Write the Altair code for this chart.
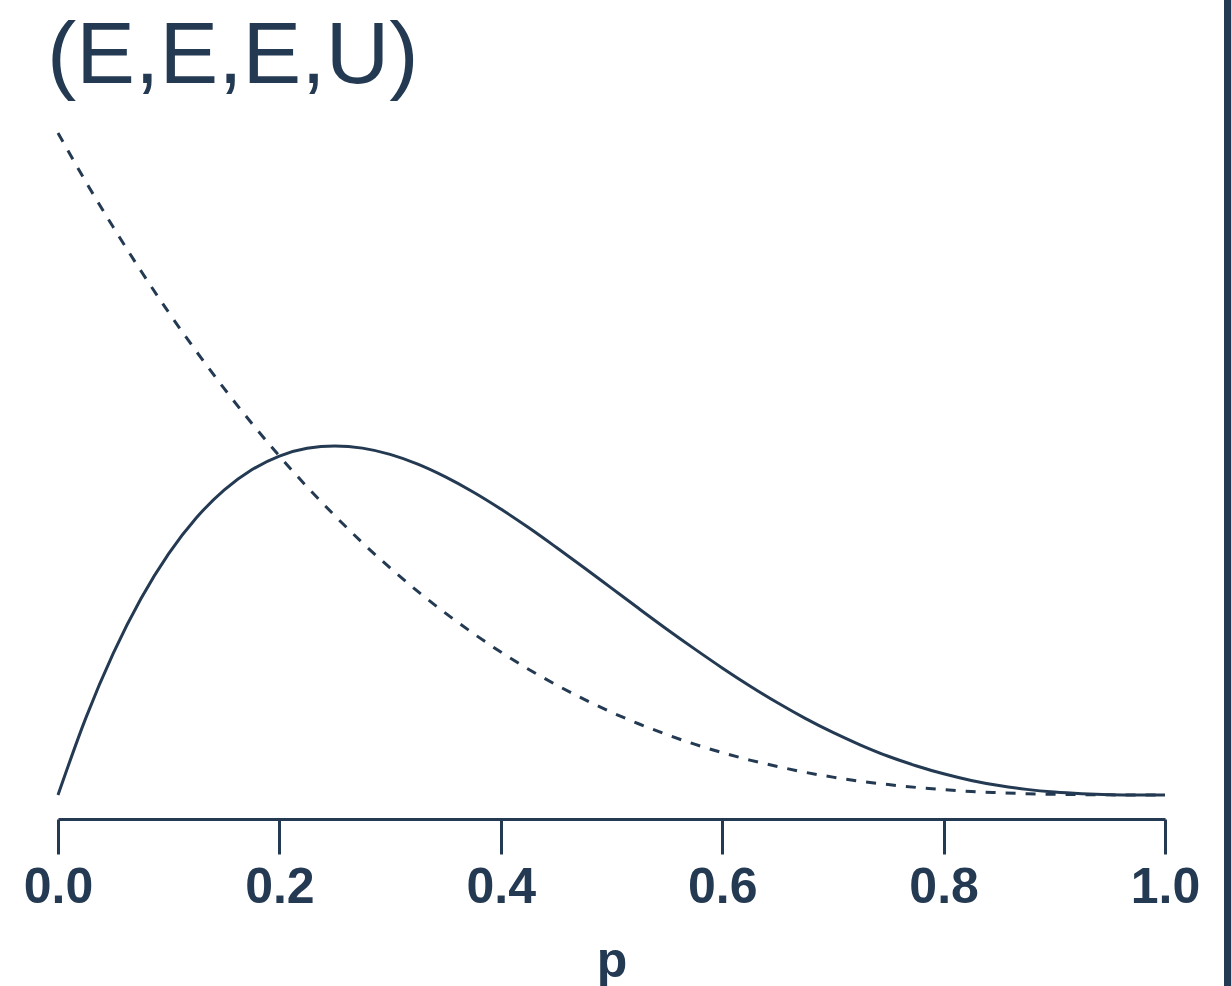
import altair as alt
import pandas as pd

# Grid of p values and the two curves read at each point
p_vals = [0.000, 0.025, 0.050, 0.075, 0.100, 0.125, 0.150, 0.175, 0.200, 0.225,
          0.250, 0.275, 0.300, 0.325, 0.350, 0.375, 0.400, 0.425, 0.450, 0.475,
          0.500, 0.525, 0.550, 0.575, 0.600, 0.625, 0.650, 0.675, 0.700, 0.725,
          0.750, 0.775, 0.800, 0.825, 0.850, 0.875, 0.900, 0.925, 0.950, 0.975,
          1.000]
solid_vals = [0.000, 0.463, 0.857, 1.187, 1.458, 1.675, 1.842, 1.965, 2.048, 2.095,
              2.109, 2.096, 2.058, 1.999, 1.922, 1.831, 1.728, 1.616, 1.497, 1.375,
              1.250, 1.125, 1.002, 0.883, 0.768, 0.659, 0.557, 0.463, 0.378, 0.302,
              0.234, 0.177, 0.128, 0.088, 0.057, 0.034, 0.018, 0.008, 0.002, 0.000,
              0.000]
dashed_vals = [4.000, 3.707, 3.430, 3.166, 2.916, 2.680, 2.457, 2.246, 2.048, 1.862,
               1.688, 1.524, 1.372, 1.230, 1.099, 0.977, 0.864, 0.760, 0.666, 0.579,
               0.500, 0.429, 0.365, 0.307, 0.256, 0.211, 0.172, 0.137, 0.108, 0.083,
               0.063, 0.046, 0.032, 0.021, 0.014, 0.008, 0.004, 0.002, 0.001, 0.000,
               0.000]
x_ticks = [0.0, 0.2, 0.4, 0.6, 0.8, 1.0]
panel_title = "(E,E,E,U)"

INK = "#243a52"
FONT = "Liberation Sans"

df = pd.DataFrame({
    "p": p_vals * 2,
    "density": solid_vals + dashed_vals,
    "curve": ["solid"] * len(p_vals) + ["dashed"] * len(p_vals),
})

x_enc = alt.X(
    "p:Q",
    scale=alt.Scale(domain=[0, 1], nice=False),
    axis=alt.Axis(
        values=x_ticks, format=".1f", grid=False, offset=24,
        domainColor=INK, domainWidth=3, tickColor=INK, tickWidth=3, tickSize=35,
        labelFont=FONT, labelFontSize=50, labelFontWeight="bold", labelColor=INK,
        labelPadding=8, labelFlush=False,
        title="p", titleFont=FONT, titleFontSize=50, titleFontWeight="bold",
        titleColor=INK, titlePadding=24,
    ),
)
y_enc = alt.Y("density:Q", scale=alt.Scale(domain=[0, 4], nice=False, zero=True), axis=None)

base = alt.Chart(df)

solid = base.transform_filter(alt.datum.curve == "solid").mark_line(
    color=INK, strokeWidth=3, interpolate="monotone"
).encode(x=x_enc, y=y_enc)

dashed = base.transform_filter(alt.datum.curve == "dashed").mark_line(
    color=INK, strokeWidth=3, strokeDash=[10, 10], interpolate="monotone"
).encode(x=x_enc, y=y_enc)

title = alt.Chart(pd.DataFrame({"t": [panel_title]})).mark_text(
    font=FONT, fontSize=88, color=INK, align="left", baseline="alphabetic"
).encode(x=alt.value(-11), y=alt.value(-50), text="t:N")

# Dark border along the right edge of the panel
edge = alt.Chart(pd.DataFrame({"e": [0]})).mark_rule(
    color=INK, strokeWidth=7
).encode(x=alt.value(1169.5), y=alt.value(-140), y2=alt.value(860))

chart = alt.layer(dashed, solid, title, edge).properties(
    width=1107, height=662,
    autosize=alt.AutoSizeParams(type="none"),
    padding={"left": 58, "top": 133, "right": 66, "bottom": 191},
).configure(background="white", view=alt.ViewConfig(stroke=None))

chart.save("out.html", embed_options={"renderer": "svg", "actions": False})
